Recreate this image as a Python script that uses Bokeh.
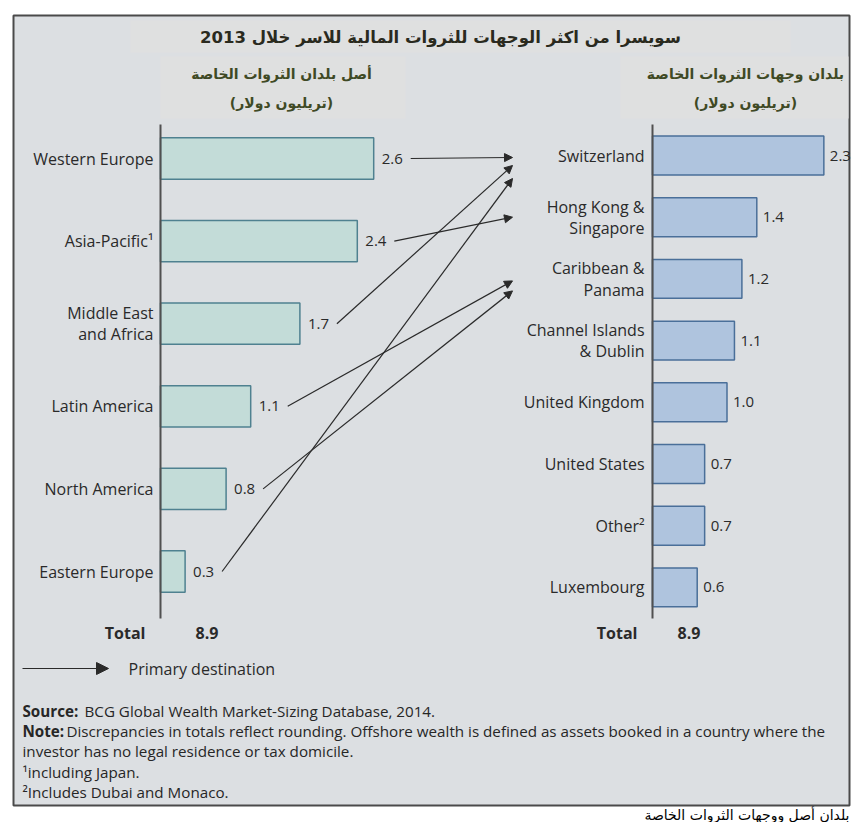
from bokeh.plotting import figure
from bokeh.models import Range1d, ColumnDataSource, Arrow, NormalHead
from bokeh.core.properties import value
from bokeh.embed import file_html
from bokeh.resources import INLINE

# ---------------- data ----------------
title_text = "سويسرا من اكثر الوجهات للثروات المالية للاسر خلال 2013"
left_header = "أصل بلدان الثروات الخاصة"
right_header = "بلدان وجهات الثروات الخاصة"
unit_label = "(تريليون دولار)"
caption_text = "بلدان أصل ووجهات الثروات الخاصة"

origins = ["Western Europe", "Asia-Pacific¹", "Middle East\nand Africa",
           "Latin America", "North America", "Eastern Europe"]
origin_values = [2.6, 2.4, 1.7, 1.1, 0.8, 0.3]

destinations = ["Switzerland", "Hong Kong &\nSingapore", "Caribbean &\nPanama",
                "Channel Islands\n& Dublin", "United Kingdom", "United States",
                "Other²", "Luxembourg"]
destination_values = [2.3, 1.4, 1.2, 1.1, 1.0, 0.7, 0.7, 0.6]

primary_destination = ["Switzerland", "Hong Kong &\nSingapore", "Switzerland",
                       "Caribbean &\nPanama", "Caribbean &\nPanama", "Switzerland"]

total_label = "Total"
origin_total = 8.9
destination_total = 8.9

legend_label = "Primary destination"
source_bold = "Source:"
source_rest = "BCG Global Wealth Market-Sizing Database, 2014."
note_bold = "Note:"
note_rest = "Discrepancies in totals reflect rounding. Offshore wealth is defined as assets booked in a country where the"
note_line2 = "investor has no legal residence or tax domicile."
footnote1 = "¹including Japan."
footnote2 = "²Includes Dubai and Monaco."

# ---------------- layout ----------------
W, H = 851, 822
LX0, LXS = 160, 82.0      # left panel: pixel of zero, px per trillion
LY0, LYS = 158, 82.6      # left panel: pixel of first row, row spacing
RX0, RXS = 652, 74.5
RY0, RYS = 155, 61.7
ARROW_END_X = 512
arrow_end_offsets = [2, 0, 10, 2, 12, 23]

LATIN = value("Open Sans")
ARABIC = value("DejaVu Sans")
TXT = "#2a2a2a"
LFS = "16px"

p = figure(width=W, height=H, x_range=Range1d(0, W), y_range=Range1d(H, 0),
           output_backend="svg", toolbar_location=None, min_border=0,
           x_axis_location=None, y_axis_location=None)
p.grid.visible = False
p.outline_line_color = None
p.background_fill_color = "white"
p.border_fill_color = "white"

p.extra_x_ranges = {
    "lx": Range1d(-LX0 / LXS, (W - LX0) / LXS),
    "rx": Range1d(-RX0 / RXS, (W - RX0) / RXS),
}
p.extra_y_ranges = {
    "ly": Range1d((H - LY0) / LYS, -LY0 / LYS),
    "ry": Range1d((H - RY0) / RYS, -RY0 / RYS),
}

# panel box
p.quad(left=13, right=849, top=15, bottom=805, fill_color="#dcdfe2",
       line_color="#4a4a4a", line_width=2)
# very subtle lighter header bands
p.quad(left=[130, 160, 620], right=[790, 405, 848], top=[20, 56, 56], bottom=[52, 118, 118],
       fill_color="#dfe0e0", line_color=None)

# title & headers
p.text(x=[440], y=[37], text=[title_text], text_font=ARABIC, text_font_style="bold",
       text_font_size="16.5px", text_color="#2a2a1e", text_align="center", text_baseline="middle")
p.text(x=[281, 745], y=[73, 73], text=[left_header, right_header], text_font=ARABIC,
       text_font_style="bold", text_font_size="14px", text_color="#3f4a25",
       text_align="center", text_baseline="middle")
p.text(x=[281, 745], y=[102, 102], text=[unit_label, unit_label], text_font=ARABIC,
       text_font_style="bold", text_font_size="14px", text_color="#3f4a25",
       text_align="center", text_baseline="middle")

# ---------------- left panel ----------------
li = list(range(len(origins)))
lsrc = ColumnDataSource(dict(y=li, v=origin_values, cat=origins,
                             lab=[f"{v:.1f}" for v in origin_values]))
p.hbar(y="y", left=0, right="v", height=0.5, source=lsrc, x_range_name="lx", y_range_name="ly",
       fill_color="#c3dcd8", line_color="#4f8190", line_width=1.5)
p.segment(x0=[0], x1=[0], y0=[124], y1=[618], x_range_name="lx",
          line_color="#505050", line_width=2)
p.text(x="v", y="y", text="lab", source=lsrc, x_range_name="lx", y_range_name="ly",
       x_offset=8, text_font=LATIN, text_font_size="15px", text_color=TXT,
       text_align="left", text_baseline="middle")
p.text(x=0, y="y", text="cat", source=lsrc, x_range_name="lx", y_range_name="ly",
       x_offset=-7, text_font=LATIN, text_font_size=LFS, text_color=TXT,
       text_align="right", text_baseline="middle", text_line_height=0.97)
p.text(x=[0], y=[632], text=[total_label], x_range_name="lx", x_offset=-15,
       text_font=LATIN, text_font_style="bold", text_font_size="16px", text_color=TXT,
       text_align="right", text_baseline="middle")
p.text(x=[0], y=[632], text=[f"{origin_total:.1f}"], x_range_name="lx", x_offset=35,
       text_font=LATIN, text_font_style="bold", text_font_size="16px", text_color=TXT,
       text_align="left", text_baseline="middle")

# ---------------- right panel ----------------
ri = list(range(len(destinations)))
rsrc = ColumnDataSource(dict(y=ri, v=destination_values, cat=destinations,
                             lab=[f"{v:.1f}" for v in destination_values]))
p.hbar(y="y", left=0, right="v", height=0.63, source=rsrc, x_range_name="rx", y_range_name="ry",
       fill_color="#afc4de", line_color="#4a6f99", line_width=1.5)
p.segment(x0=[0], x1=[0], y0=[124], y1=[618], x_range_name="rx",
          line_color="#505050", line_width=2)
p.text(x="v", y="y", text="lab", source=rsrc, x_range_name="rx", y_range_name="ry",
       x_offset=6, text_font=LATIN, text_font_size="15px", text_color=TXT,
       text_align="left", text_baseline="middle")
p.text(x=0, y="y", text="cat", source=rsrc, x_range_name="rx", y_range_name="ry",
       x_offset=-8, text_font=LATIN, text_font_size=LFS, text_color=TXT,
       text_align="right", text_baseline="middle", text_line_height=0.97)
p.text(x=[0], y=[632], text=[total_label], x_range_name="rx", x_offset=-15,
       text_font=LATIN, text_font_style="bold", text_font_size="16px", text_color=TXT,
       text_align="right", text_baseline="middle")
p.text(x=[0], y=[632], text=[f"{destination_total:.1f}"], x_range_name="rx", x_offset=25,
       text_font=LATIN, text_font_style="bold", text_font_size="16px", text_color=TXT,
       text_align="left", text_baseline="middle")

# ---------------- flow arrows ----------------
xs, ys, xe, ye = [], [], [], []
for k, (v, dest) in enumerate(zip(origin_values, primary_destination)):
    j = destinations.index(dest)
    xs.append(LX0 + v * LXS + 37)
    ys.append(LY0 + k * LYS)
    xe.append(ARROW_END_X)
    ye.append(RY0 + j * RYS + arrow_end_offsets[k])
asrc = ColumnDataSource(dict(x0=xs, y0=ys, x1=xe, y1=ye))
p.add_layout(Arrow(x_start="x0", y_start="y0", x_end="x1", y_end="y1", source=asrc,
                   line_color="#2a2a2a", line_width=1.2,
                   end=NormalHead(size=8, fill_color="#2a2a2a", line_color="#2a2a2a")))

# legend arrow
p.add_layout(Arrow(x_start=22, y_start=668, x_end=108, y_end=668, line_color="#2a2a2a",
                   line_width=1.2,
                   end=NormalHead(size=12, fill_color="#2a2a2a", line_color="#2a2a2a")))
p.text(x=[128], y=[668], text=[legend_label], text_font=LATIN, text_font_size="16px",
       text_color=TXT, text_align="left", text_baseline="middle")

# ---------------- footer ----------------
FS = "15.2px"
FC = "#262626"
p.text(x=[22, 22], y=[710, 730], text=[source_bold, note_bold], text_font=LATIN,
       text_font_style="bold", text_font_size=FS, text_color=FC,
       text_align="left", text_baseline="middle")
p.text(x=[84, 66], y=[710, 730], text=[source_rest, note_rest], text_font=LATIN,
       text_font_size=FS, text_color=FC, text_align="left", text_baseline="middle")
p.text(x=[22, 22, 22], y=[750, 771, 791], text=[note_line2, footnote1, footnote2],
       text_font=LATIN, text_font_size=FS, text_color=FC,
       text_align="left", text_baseline="middle")

# caption below panel
p.text(x=[849], y=[814], text=[caption_text], text_font=ARABIC, text_font_size="14px",
       text_color="#000000", text_align="right", text_baseline="middle")

open("out.html", "w").write(file_html(p, INLINE))
